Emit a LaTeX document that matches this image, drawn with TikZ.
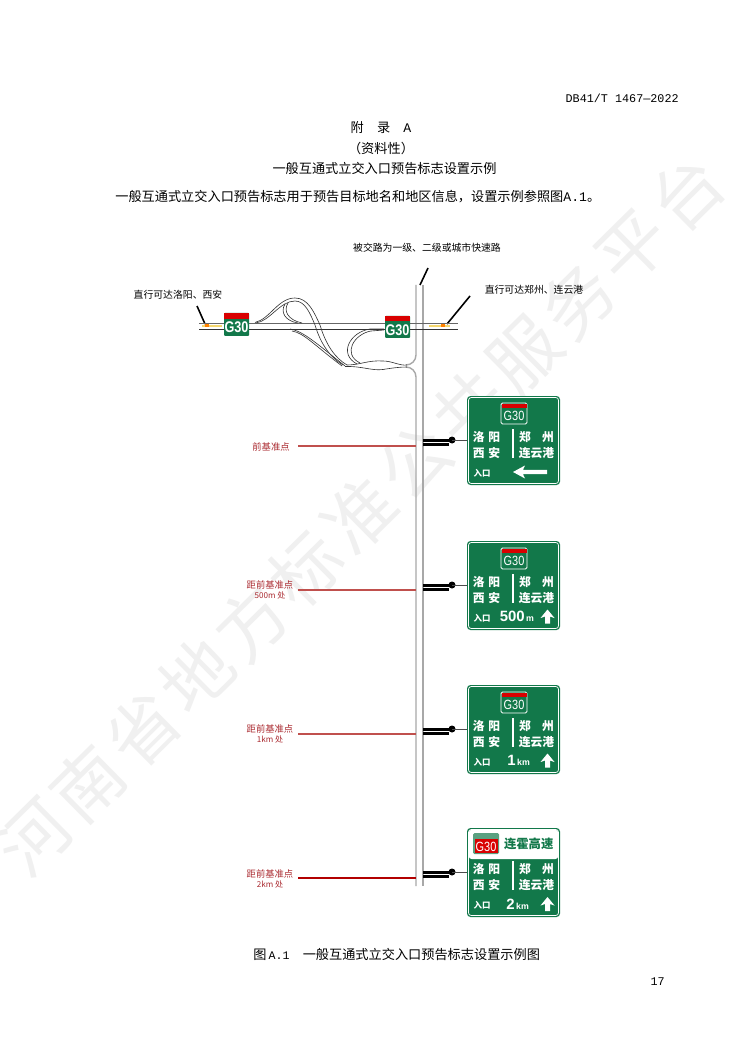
\documentclass[tikz,border=0pt]{standalone}
\usepackage{fontspec}
\setmainfont{Noto Sans CJK SC}
\newfontfamily\latinmono{Liberation Mono}
\newfontfamily\latinsans{Liberation Sans}
\newfontfamily\routefont[FakeStretch=.82]{Liberation Sans}
\newfontfamily\markfont[LetterSpace=8.7]{Noto Sans CJK SC}

\definecolor{signgreen}{HTML}{12784A}
\definecolor{roadgray}{HTML}{A8A8A8}
\definecolor{labelred}{HTML}{AA2A30}
\definecolor{lineRed}{HTML}{C0504D}
\definecolor{markyellow}{HTML}{F5D76E}

\tikzset{
    pagetext/.style = {inner sep = 0, font = \fontsize{7.5pt}{9pt}\selectfont},
    monotext/.style = {inner sep = 0, font = \fontsize{6.7pt}{9pt}\selectfont\latinmono},
    maptext/.style = {inner sep = 0, font = \fontsize{5.6pt}{7pt}\selectfont},
    redtext/.style = {inner sep = 0, align = center, text = labelred, font = \fontsize{5.3pt}{5.7pt}\selectfont},
    placetext/.style = {inner sep = 0, text = white, font = \fontsize{6.7pt}{8pt}\selectfont\bfseries},
    smalltext/.style = {inner sep = 0, text = white, font = \fontsize{4.8pt}{6pt}\selectfont\bfseries},
    disttext/.style = {inner sep = 0, text = white, font = \fontsize{8.5pt}{9pt}\selectfont\latinsans\bfseries},
    routetext/.style = {inner sep = 0, text = white, font = \fontsize{7.6pt}{9pt}\selectfont\routefont},
    maproute/.style = {inner sep = 0, text = white, font = \fontsize{8.8pt}{10pt}\selectfont\routefont\bfseries},
    rampline/.style = {line width = .35pt, black!80},
    roadline/.style = {line width = .8pt, roadgray},
    leader/.style = {line width = .9pt, black},
    redline/.style = {line width = 1pt, lineRed},
}

% green shield with a red band and route number
\newcommand{\routeshield}[2]{
    \fill [signgreen, rounded corners = .3mm, draw = white, line width = .5pt] (501, 7) rectangle (527, 28);
    \fill [red!85!black] (501.5, 7.5) rectangle (526.5, 11.5);
    \node [routetext] (#1) at (514, 19.5) {#2};
}

% sign board, its post and the rows common to all four
\newcommand{\guidesign}[2]{
    \begin{scope}[yshift = -#2*.02cm]
        \draw [line width = 1.7pt] (423, 44.5)  --  (451, 44.5);
        \draw [line width = 1.5pt] (423, 48.8)  --  (449, 48.8);
        \fill (452, 44) circle (3.5);
        \draw [line width = .3pt, black!70] (452, 44)  --  (467, 44);
        \fill [signgreen, rounded corners = .7mm] (467, 0) rectangle (560, 89);
        \draw [white, line width = .4pt, rounded corners = .55mm] (468.5, 1.5) rectangle (558.5, 87.5);
        \draw [white, line width = .7pt] (513, 33)  --  (513, 62);
        \node [placetext] (#1west) at (486.5, 41) {洛\hspace{.3em}阳};
        \node [placetext] (#1wests) at (486.5, 57) {西\hspace{.3em}安};
        \node [placetext] (#1east) at (536.5, 41) {郑\hspace{.95em}州};
        \node [placetext] (#1easts) at (536.5, 57) {连云港};
        \node [smalltext] (#1entry) at (482, 77) {入口};
    \end{scope}
}

% fat arrow pointing up
\newcommand{\uparrowsign}[2]{
    \fill [white] (#1, #2 - 7) -- (#1 + 7, #2 + 1.5) -- (#1 + 2.5, #2) -- (#1 + 2.5, #2 + 7)
        -- (#1 - 2.5, #2 + 7) -- (#1 - 2.5, #2) -- (#1 - 7, #2 + 1.5) -- cycle;
}

\begin{document}
\begin{tikzpicture}[x = .02cm, y = -.02cm]
    \useasboundingbox (0, 0) rectangle (750, 1060);
    \fill [white] (0, 0) rectangle (750, 1060);

    % watermark
    \node [rotate = 44.6, text = black!6, inner sep = 0, font = \fontsize{40pt}{46pt}\selectfont\markfont] (wmark) at (360, 515) {河南省地方标准公共服务平台};

    % page text
    \node [monotext, anchor = east] (docno) at (679, 98) {DB41/T 1467—2022};
    \node [pagetext] (annex) at (381, 128) {附\hspace{1em}录\hspace{1em}{\latinmono A}};
    \node [pagetext] (kind) at (381, 148) {（资料性）};
    \node [pagetext] (title) at (384.5, 168) {一般互通式立交入口预告标志设置示例};
    \node [pagetext, anchor = west] (intro) at (115, 197) {一般互通式立交入口预告标志用于预告目标地名和地区信息，设置示例参照图{\latinmono A.1}。};
    \node [pagetext, anchor = west] (caption) at (253, 954) {图\,{\fontsize{6.6pt}{9pt}\selectfont\latinmono A.1}\hspace{1em}一般互通式立交入口预告标志设置示例图};
    \node [monotext, anchor = east] (pageno) at (665, 982) {17};

    % map labels
    \node [maptext] (crossroad) at (427, 248) {被交路为一级、二级或城市快速路};
    \node [maptext] (westlabel) at (178, 295) {直行可达洛阳、西安};
    \node [maptext] (eastlabel) at (534, 290) {直行可达郑州、连云港};
    \draw [leader] (197, 306)  --  (205, 324);
    \draw [leader] (470, 296)  --  (447, 324);
    \draw [leader] (428, 268)  --  (420, 285);

    % crossed road
    \draw [roadline] (416, 285)  --  (416, 355) to [out = -90, in = 0] (406, 365);
    \draw [roadline] (406, 367) to [out = 0, in = 90] (416, 377)  --  (416, 886);
    \draw [roadline] (423, 285)  --  (423, 886);

    % main line
    \draw [rampline, line width = .4pt, black!60] (199, 323)  --  (458, 323);
    \draw [rampline, line width = .5pt] (199, 329)  --  (458, 329);
    \fill [markyellow] (202, 325) rectangle (222, 327);
    \fill [markyellow] (429, 325) rectangle (450, 327);
    \fill [orange] (205, 324.5) rectangle (209, 327.5);
    \fill [orange] (441, 324.5) rectangle (445, 327.5);

    % ramps
    \draw [rampline] (255, 322.5) .. controls (270, 319) and (278, 298) .. (295, 298)
        .. controls (308, 298) and (314, 312) .. (320, 325) .. controls (326, 345) and (335, 358) .. (347, 365);
    \draw [rampline] (256, 323) .. controls (270, 321) and (280, 301) .. (295, 301)
        .. controls (305, 301) and (310, 313) .. (315, 325) .. controls (321, 345) and (331, 358) .. (343, 365);
    \draw [rampline] (285, 304) .. controls (280, 312) and (285, 321) .. (298, 323);
    \draw [rampline] (288, 303) .. controls (283, 311) and (288, 320) .. (302, 323);
    \draw [rampline] (290, 329) .. controls (303, 331) and (316, 343) .. (345, 366);
    \draw [rampline] (292, 331) .. controls (304, 333) and (314, 345) .. (342, 366);
    \draw [rampline] (384, 329)  --  (370, 329) .. controls (350, 332) and (338, 354) .. (357, 364);
    \draw [rampline] (384, 330)  --  (371, 331) .. controls (354, 334) and (342, 354) .. (360, 363);
    \draw [rampline] (347, 365) .. controls (360, 365) and (368, 360) .. (383, 361) .. controls (392, 361) and (400, 366) .. (407, 365);
    \draw [rampline] (345, 366.5) .. controls (362, 366) and (372, 371) .. (383, 369.5) .. controls (392, 368) and (400, 367) .. (407, 367);

    % route shields on the map
    \fill [signgreen, rounded corners = .2mm] (224, 313) rectangle (249, 336);
    \fill [red!85!black] (224, 313) rectangle (249, 319);
    \node [maproute] (mapwest) at (236.5, 327.5) {G30};
    \fill [signgreen, rounded corners = .2mm] (385, 316) rectangle (410, 338);
    \fill [red!85!black] (385, 316) rectangle (410, 321.5);
    \node [maproute] (mapeast) at (397.5, 330) {G30};

    % reference lines
    \draw [redline] (298, 446)  --  (416, 446);
    \draw [redline] (298, 590)  --  (416, 590);
    \draw [redline] (298, 734)  --  (416, 734);
    \draw [redline, line width = 1.2pt, red!70!black] (298, 878)  --  (416, 878);
    \node [redtext] (refa) at (271, 447) {前基准点};
    \node [redtext] (refb) at (270, 589.5) {距前基准点\\{\fontsize{4.6pt}{5pt}\selectfont 500m 处}};
    \node [redtext] (refc) at (270, 734) {距前基准点\\{\fontsize{4.6pt}{5pt}\selectfont 1km 处}};
    \node [redtext] (refd) at (270, 879) {距前基准点\\{\fontsize{4.6pt}{5pt}\selectfont 2km 处}};

    % sign 1
    \guidesign{signa}{396}
    \begin{scope}[yshift = -396*.02cm]
        \routeshield{shielda}{G30}
        \fill [white] (513, 76) -- (525, 69.5) -- (523, 73.8) -- (547, 73.8) -- (547, 78.2) -- (523, 78.2) -- (525, 82.5) -- cycle;
    \end{scope}

    % sign 2
    \guidesign{signb}{541}
    \begin{scope}[yshift = -541*.02cm]
        \routeshield{shieldb}{G30}
        \node [disttext, anchor = base west] (distb) at (499.5, 80.5) {500{\fontsize{5pt}{6pt}\selectfont\,m}};
        \uparrowsign{547.5}{75.5}
    \end{scope}

    % sign 3
    \guidesign{signc}{685}
    \begin{scope}[yshift = -685*.02cm]
        \routeshield{shieldc}{G30}
        \node [disttext, anchor = base west] (distc) at (507, 80.5) {1{\fontsize{5pt}{6pt}\selectfont\,km}};
        \uparrowsign{547.5}{75.5}
    \end{scope}

    % sign 4, white head with the road name
    \guidesign{signd}{828}
    \begin{scope}[yshift = -828*.02cm]
        \fill [white, rounded corners = .55mm] (468.8, 1.8)  --  (558.2, 1.8)  --  (558.2, 31)  --  (468.8, 31)  --  cycle;
        \fill [signgreen!70, rounded corners = .3mm] (473, 5) rectangle (499, 26);
        \fill [red!85!black] (474.5, 11) rectangle (497.5, 24.5);
        \node [routetext] (shieldd) at (486, 18.5) {G30};
        \node [inner sep = 0, text = signgreen, font = \fontsize{7pt}{9pt}\selectfont\bfseries] (roadname) at (528.7, 16) {连霍高速};
        \node [disttext, anchor = base west] (distd) at (506, 81) {2{\fontsize{5pt}{6pt}\selectfont\,km}};
        \uparrowsign{547.5}{76}
    \end{scope}
\end{tikzpicture}
\end{document}
